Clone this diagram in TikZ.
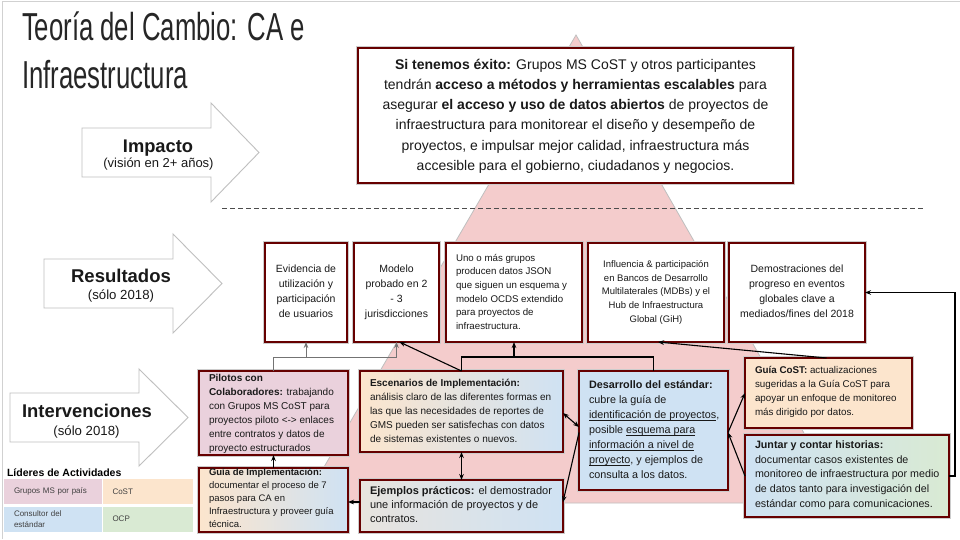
\documentclass[tikz,border=0pt]{standalone}
\usepackage{graphicx}
\usepackage{fontspec}
\setmainfont{Liberation Sans}
\usetikzlibrary{arrows.meta}
\definecolor{dred}{RGB}{102,0,0}
\definecolor{pinkL}{RGB}{234,209,220}
\definecolor{orangeL}{RGB}{252,229,205}
\definecolor{blueL}{RGB}{207,226,243}
\definecolor{greenL}{RGB}{217,234,211}
\definecolor{tripink}{RGB}{244,204,204}
\newcommand\ulx[1]{\begingroup\setbox0=\hbox{#1}\rlap{\rule[-2.1pt]{\wd0}{0.6pt}}\box0\endgroup}
\tikzset{
  boxS/.style={draw=dred, line width=1.8pt, inner sep=0pt, outer sep=0pt, fill=white,
    preaction={draw=black!20, line width=3.6pt}},
  txt/.style={inner sep=0pt, outer sep=0pt, text=black!90},
  barrow/.style={fill=white, draw=black!25, line width=0.9pt},
  conn/.style={draw=black, line width=1.1pt},
  tconn/.style={draw=black, line width=1.9pt},
  gconn/.style={draw=black!55, line width=0.9pt},
  cell/.style={inner xsep=10pt, inner ysep=0pt, outer sep=0pt, minimum height=25pt, anchor=north west,
    align=left, text=black!75, font={\fontsize{8}{10.5}\selectfont}},
}
\begin{document}
\begin{tikzpicture}[x=1pt,y=-1pt,>={Stealth[length=6pt,width=4.6pt]}]
\useasboundingbox (0,0) rectangle (960,539);
\fill[white] (0,0) rectangle (960,539);
% slide frame
\draw[black!18, line width=1pt] (2,539) -- (2,1) -- (960,1);
% pink triangle
\draw[fill=tripink, draw=black!25, line width=0.8pt] (576,35) -- (844,503) -- (303,503) -- cycle;
% dashed separator
\draw[black!70, line width=0.9pt, dash pattern=on 5pt off 3pt] (222,208.5) -- (923,208.5);
% title
\node[txt, anchor=base west, text=black!85] (t1) at (22,40) {\fontsize{39}{46}\selectfont\scalebox{0.66}[1]{Teoría del Cambio: CA e}};
\node[txt, anchor=base west, text=black!85] (t2) at (22,88) {\fontsize{39}{46}\selectfont\scalebox{0.66}[1]{Infraestructura}};
% block arrows
\draw[barrow] (82,128) -- (211,128) -- (211,103) -- (259,152.5) -- (211,202) -- (211,177) -- (82,177) -- cycle;
\draw[barrow] (44,259) -- (173,259) -- (173,234) -- (222,283.5) -- (173,333) -- (173,308) -- (44,308) -- cycle;
\draw[barrow] (10,393) -- (139,393) -- (139,369) -- (188,417.5) -- (139,466) -- (139,442) -- (10,442) -- cycle;
\node[txt, anchor=base, font={\bfseries\fontsize{18.3}{20}\selectfont}] (impL) at (158,152) {Impacto};
\node[txt, anchor=base, font={\fontsize{13}{15}\selectfont}] (impS) at (158.5,167) {(visión en 2+ años)};
\node[txt, anchor=base, font={\bfseries\fontsize{18.5}{20}\selectfont}] (resL) at (121,282) {Resultados};
\node[txt, anchor=base, font={\fontsize{13.2}{15}\selectfont}] (resS) at (121,299) {(sólo 2018)};
\node[txt, anchor=base, font={\bfseries\fontsize{18.4}{20}\selectfont}] (intL) at (87,417) {Intervenciones};
\node[txt, anchor=base, font={\fontsize{13.2}{15}\selectfont}] (intS) at (86.5,435) {(sólo 2018)};
% boxes
\node[boxS, minimum width=435pt, minimum height=135pt] (imp) at (575.5,115.5) {};
\node[boxS, minimum width=82pt, minimum height=99pt] (evid) at (306,292.5) {};
\node[boxS, minimum width=85pt, minimum height=99pt] (model) at (396.5,292.5) {};
\node[boxS, minimum width=136pt, minimum height=99pt] (json) at (514,292.5) {};
\node[boxS, minimum width=136pt, minimum height=99pt] (infl) at (656,292.5) {};
\node[boxS, minimum width=136pt, minimum height=99pt] (demo) at (797,292.5) {};
\node[boxS, fill=pinkL, minimum width=149pt, minimum height=84pt] (pil) at (273.5,413) {};
\node[boxS, left color=orangeL, right color=blueL, minimum width=149pt, minimum height=64pt] (gimp) at (273.5,500) {};
\node[boxS, left color=orangeL, right color=blueL, minimum width=203pt, minimum height=81pt] (esc) at (461.5,411.5) {};
\node[boxS, left color=orangeL!55!blueL, right color=blueL, minimum width=203pt, minimum height=52pt] (ejem) at (461.5,506) {};
\node[boxS, fill=blueL, minimum width=149pt, minimum height=119pt] (des) at (653.5,430.5) {};
\node[boxS, fill=orangeL, minimum width=167pt, minimum height=70pt] (gcost) at (828.5,393) {};
\node[boxS, left color=blueL, right color=greenL, minimum width=204pt, minimum height=82pt] (junt) at (847,476) {};
% box texts
\node[txt, anchor=north, align=center, font={\fontsize{14}{20.2}\selectfont}] (impT) at (575.5,55.3) {\rule{0pt}{14pt}\textbf{Si tenemos éxito:} Grupos MS CoST y otros participantes\\ tendrán \textbf{acceso a métodos y herramientas escalables} para\\ asegurar \textbf{el acceso y uso de datos abiertos} de proyectos de\\ infraestructura para monitorear el diseño y desempeño de\\ proyectos, e impulsar mejor calidad, infraestructura más\\ accesible para el gobierno, ciudadanos y negocios.};
\node[txt, anchor=north, align=center, font={\fontsize{10.5}{15}\selectfont}] (evT) at (306,262.2) {\rule{0pt}{10.5pt}Evidencia de\\ utilización y\\ participación\\ de usuarios};
\node[txt, anchor=north, align=center, font={\fontsize{10.5}{15}\selectfont}] (moT) at (396.5,262.2) {\rule{0pt}{10.5pt}Modelo\\ probado en 2\\ - 3\\ jurisdicciones};
\node[txt, anchor=north west, align=left, font={\fontsize{9.7}{13.7}\selectfont}] (jsT) at (456,251.3) {\rule{0pt}{9.7pt}Uno o más grupos\\ producen datos JSON\\ que siguen un esquema y\\ modelo OCDS extendido\\ para proyectos de\\ infraestructura.};
\node[txt, anchor=north, align=center, font={\fontsize{9.5}{13.8}\selectfont}] (inT) at (656,257.8) {\rule{0pt}{9.5pt}Influencia \& participación\\ en Bancos de Desarrollo\\ Multilaterales (MDBs) y el\\ Hub de Infraestructura\\ Global (GiH)};
\node[txt, anchor=north, align=center, font={\fontsize{10.5}{15}\selectfont}] (deT) at (797,262.2) {\rule{0pt}{10.5pt}Demostraciones del\\ progreso en eventos\\ globales clave a\\ mediados/fines del 2018};
\node[txt, anchor=north west, align=left, font={\fontsize{10}{14}\selectfont}] (piT) at (209,371) {\rule{0pt}{10pt}\textbf{Pilotos con}\\ \textbf{Colaboradores:} trabajando\\ con Grupos MS CoST para\\ proyectos piloto <-> enlaces\\ entre contratos y datos de\\ proyecto estructurados};
\node[txt, anchor=north west, align=left, font={\fontsize{9.5}{13}\selectfont}] (giT) at (209,466.2) {\rule{0pt}{9.5pt}\textbf{Guía de Implementación:}\\ documentar el proceso de 7\\ pasos para CA en\\ Infraestructura y proveer guía\\ técnica.};
\node[txt, anchor=north west, align=left, font={\fontsize{10}{14.1}\selectfont}] (esT) at (370,376) {\rule{0pt}{10pt}\textbf{Escenarios de Implementación:}\\ análisis claro de las diferentes formas en\\ las que las necesidades de reportes de\\ GMS pueden ser satisfechas con datos\\ de sistemas existentes o nuevos.};
\node[txt, anchor=north west, align=left, font={\fontsize{11}{14.3}\selectfont}] (ejT) at (370,483.3) {\rule{0pt}{11pt}\textbf{Ejemplos prácticos:} el demostrador\\ une información de proyectos y de\\ contratos.};
\node[txt, anchor=north west, align=left, font={\fontsize{10.8}{15}\selectfont}] (dsT) at (589,377.5) {\rule{0pt}{10.8pt}\textbf{Desarrollo del estándar:}\\ cubre la guía de\\ \ulx{identificación de proyectos},\\ posible \ulx{esquema para}\\ \ulx{información a nivel de}\\ \ulx{proyecto}, y ejemplos de\\ consulta a los datos.};
\node[txt, anchor=north west, align=left, font={\fontsize{9.8}{14.2}\selectfont}] (gcT) at (755,363.5) {\rule{0pt}{9.8pt}\textbf{Guía CoST:} actualizaciones\\ sugeridas a la Guía CoST para\\ apoyar un enfoque de monitoreo\\ más dirigido por datos.};
\node[txt, anchor=north west, align=left, font={\fontsize{10.7}{14.8}\selectfont}] (juT) at (755,437.6) {\rule{0pt}{10.7pt}\textbf{Juntar y contar historias:}\\ documentar casos existentes de\\ monitoreo de infraestructura por medio\\ de datos tanto para investigación del\\ estándar como para comunicaciones.};
% connectors
\draw[gconn,->] (pil.north) -- ++(0,-14) -| (evid.south);
\draw[gconn,->] (pil.north) -- ++(0,-14) -| (model.south);
\draw[conn,->] (esc.north) -- ([xshift=3pt]model.south);
\draw[tconn] (esc.north) -- ++(0,-14) -| (des.north);
\draw[tconn,->] (esc.north) -- ++(0,-14) -| (json.south);
\draw[conn,->] ([xshift=-2pt]gcost.north) -- ([xshift=2pt]infl.south);
\draw[conn,->] (junt.east) -- ++(6,0) |- (demo.east);
\draw[conn,->] ([yshift=-2pt]des.east) -- (gcost.west);
\draw[conn,->] (junt.west) -- ([yshift=-2pt]des.east);
\draw[conn,<->] ([yshift=-1.5pt]esc.east) -- ([yshift=3.5pt]des.west);
\draw[conn,->] ([yshift=-2pt]des.west) -- ([yshift=4pt]ejem.east);
\draw[conn,<->] (esc.south) -- (ejem.north);
\draw[conn,->] ([yshift=4pt]ejem.west) -- ([yshift=-2pt]gimp.east);
\draw[conn,->] (gimp.north) -- (pil.south);
% legend
\node[txt, anchor=base west, text=black, font={\bfseries\fontsize{10.5}{12}\selectfont}] (legT) at (7,476) {Líderes de Actividades};
\node[cell, fill=pinkL, text width=77.5pt] (lg1) at (4,479) {Grupos MS por país};
\node[cell, fill=orangeL, text width=70.5pt] (lg2) at (102.5,479) {CoST};
\node[cell, fill=blueL, text width=77.5pt] (lg3) at (4,506.5) {Consultor del\\ estándar};
\node[cell, fill=greenL, text width=70.5pt] (lg4) at (102.5,506.5) {OCP};
\end{tikzpicture}
\end{document}
